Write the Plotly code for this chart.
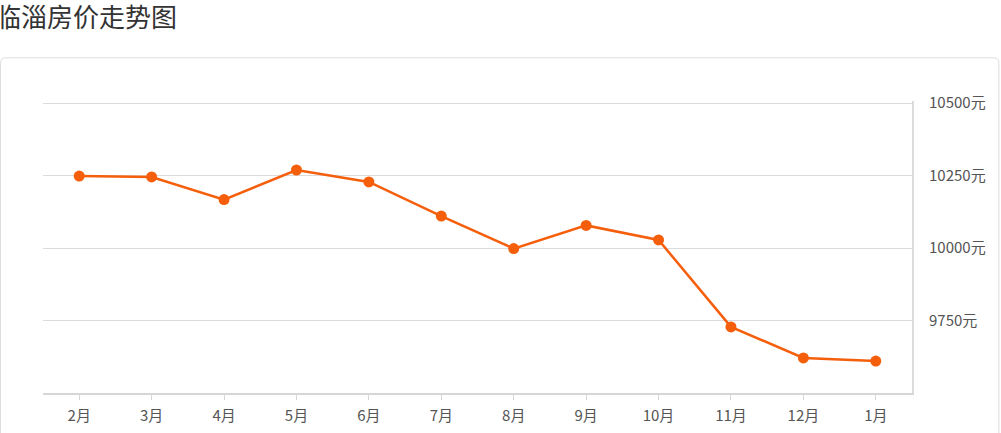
import plotly.graph_objects as go

months = ["2月", "3月", "4月", "5月", "6月", "7月", "8月", "9月", "10月", "11月", "12月", "1月"]
prices = [10248, 10245, 10167, 10269, 10228, 10110, 9998, 10078, 10028, 9728, 9621, 9610]
y_ticks = [9750, 10000, 10250, 10500]
y_tick_labels = [f"{v}元" for v in y_ticks]
title_text = "临淄房价走势图"

font_family = "Noto Sans CJK SC, Microsoft YaHei, sans-serif"
orange = "#f55f0c"

fig = go.Figure()
fig.add_trace(go.Scatter(
    x=months, y=prices, mode="lines+markers",
    line=dict(color=orange, width=2.5),
    marker=dict(color=orange, size=11),
    hoverinfo="x+y",
))

fig.update_layout(
    width=1001, height=433,
    margin=dict(l=43, r=89, t=101, b=40),
    paper_bgcolor="white", plot_bgcolor="white",
    showlegend=False,
    font=dict(family=font_family, color="#555", size=15),
    xaxis=dict(
        type="category", range=[-0.5, 11.5], automargin=False,
        showgrid=False, zeroline=False,
        showline=True, linecolor="#d6d6d6", linewidth=2,
        ticks="outside", ticklen=5, tickcolor="#d6d6d6", tickwidth=1,
        ticklabelstandoff=3,
        tickfont=dict(size=15, color="#555"),
    ),
    yaxis=dict(
        side="right", range=[9500, 10507], automargin=False,
        tickvals=y_ticks, ticktext=y_tick_labels,
        showgrid=True, gridcolor="#dcdcdc", gridwidth=1,
        zeroline=False,
        showline=True, linecolor="#dcdcdc", linewidth=2,
        ticks="outside", ticklen=8, tickcolor="rgba(0,0,0,0)",
        ticklabelstandoff=4,
        tickfont=dict(size=15, color="#555"),
    ),
    annotations=[dict(
        text=title_text, xref="paper", yref="paper",
        x=-0.058, y=1.293, xanchor="left", yanchor="middle",
        showarrow=False, font=dict(size=26, color="#333", family=font_family),
    )],
    shapes=[dict(
        type="path", xref="paper", yref="paper",
        path="M -0.0489 -0.2 L -0.0489 1.128 Q -0.0489 1.148 -0.043 1.148 L 1.094 1.148 Q 1.1 1.148 1.1 1.128 L 1.1 -0.2",
        line=dict(color="#dddddd", width=1), layer="below",
    )],
)

fig.write_html("out.html", config={"displayModeBar": False},
               post_script="document.body.style.margin='0px';")
